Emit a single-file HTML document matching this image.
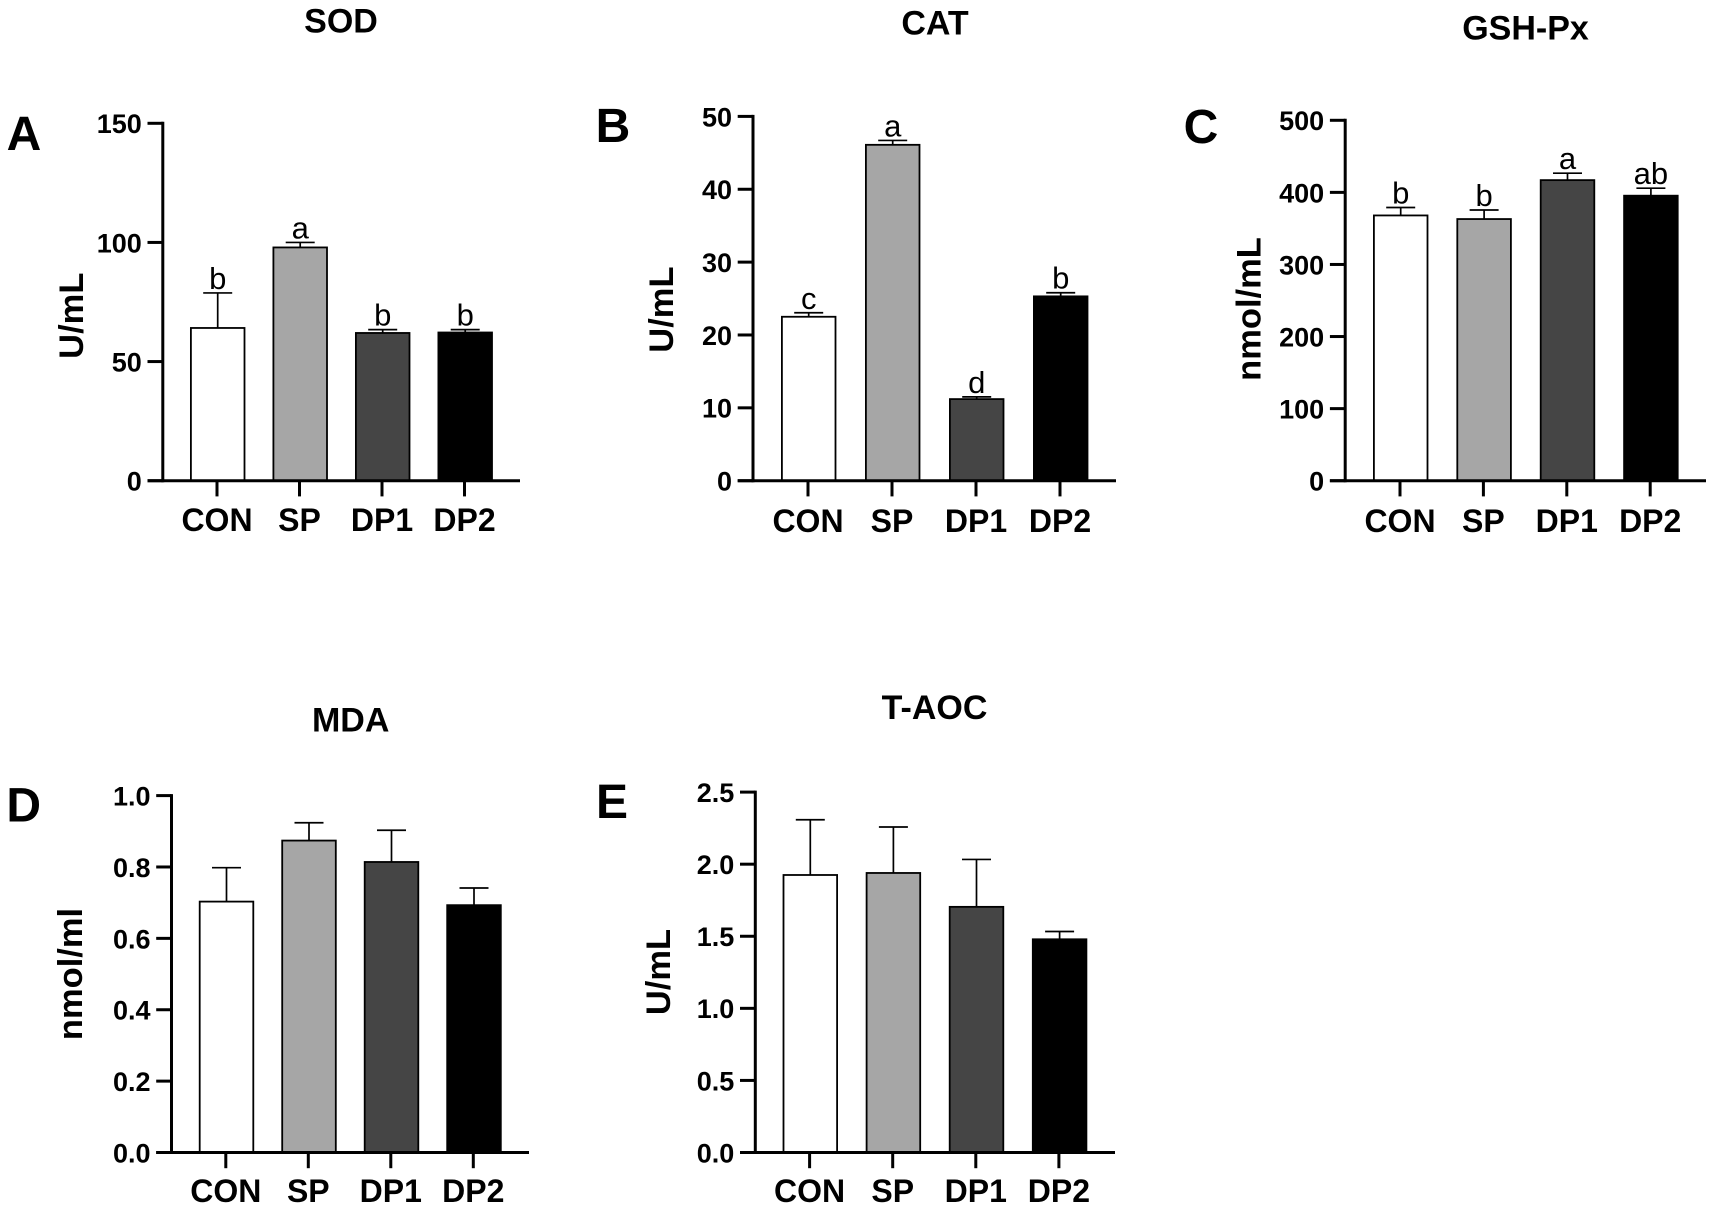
<!DOCTYPE html>
<html lang="en">
<head>
<meta charset="utf-8">
<title>Antioxidant indices: SOD, CAT, GSH-Px, MDA, T-AOC</title>
<style>
html,body{margin:0;padding:0;background:#fff;}
svg{display:block;font-family:"Liberation Sans",Arial,sans-serif;}
.b{font-weight:bold;fill:#000;}
.sig{font-weight:normal;fill:#000;}
</style>
</head>
<body>
<svg id="figure" xmlns="http://www.w3.org/2000/svg" width="1713" height="1211" viewBox="0 0 1713 1211">
<rect x="0" y="0" width="1713" height="1211" fill="#fff"></rect>
</svg>
<script>
// ---------- data ----------
const categories = ['CON', 'SP', 'DP1', 'DP2'];

const sodValues  = [64.1, 97.9, 62.0, 62.2];
const sodErrTops = [78.8, 100.0, 63.4, 63.4];
const sodLetters = ['b', 'a', 'b', 'b'];
const sodTicks   = ['0', '50', '100', '150'];

const catValues  = [22.5, 46.1, 11.2, 25.3];
const catErrTops = [23.05, 46.7, 11.5, 25.8];
const catLetters = ['c', 'a', 'd', 'b'];
const catTicks   = ['0', '10', '20', '30', '40', '50'];

const gshValues  = [368, 363, 417, 395.4];
const gshErrTops = [379, 375.6, 426.6, 405.8];
const gshLetters = ['b', 'b', 'a', 'ab'];
const gshTicks   = ['0', '100', '200', '300', '400', '500'];

const mdaValues  = [0.703, 0.874, 0.814, 0.693];
const mdaErrTops = [0.798, 0.924, 0.903, 0.741];
const mdaLetters = ['', '', '', ''];
const mdaTicks   = ['0.0', '0.2', '0.4', '0.6', '0.8', '1.0'];

const taocValues  = [1.925, 1.939, 1.704, 1.479];
const taocErrTops = [2.308, 2.258, 2.033, 1.533];
const taocLetters = ['', '', '', ''];
const taocTicks   = ['0.0', '0.5', '1.0', '1.5', '2.0', '2.5'];

const barFills = ['#ffffff', '#a6a6a6', '#454545', '#000000'];

// ---------- layout ----------
const panels = [
  {id:'sod', letter:'A', title:'SOD', unit:'U/mL', values:sodValues, errs:sodErrTops, sig:sodLetters, ticks:sodTicks,
   axisX:162.8, top:123.3, base:480.7, right:520, first:217, step:82.5,
   titleX:341, titleY:32.5, unitX:83, unitY:315.7, letterX:24, letterY:150, labelY:531},
  {id:'cat', letter:'B', title:'CAT', unit:'U/mL', values:catValues, errs:catErrTops, sig:catLetters, ticks:catTicks,
   axisX:753, top:116.4, base:480.7, right:1116, first:808, step:84,
   titleX:935, titleY:34.6, unitX:673, unitY:309.6, letterX:613, letterY:142, labelY:532},
  {id:'gsh', letter:'C', title:'GSH-Px', unit:'nmol/mL', values:gshValues, errs:gshErrTops, sig:gshLetters, ticks:gshTicks,
   axisX:1345.2, top:120.3, base:480.7, right:1706, first:1400, step:83.4,
   titleX:1525.5, titleY:39.3, unitX:1260.7, unitY:309, letterX:1201, letterY:143, labelY:532},
  {id:'mda', letter:'D', title:'MDA', unit:'nmol/ml', values:mdaValues, errs:mdaErrTops, sig:mdaLetters, ticks:mdaTicks,
   axisX:171.5, top:795.6, base:1152.5, right:529, first:225.8, step:82.5,
   titleX:350.7, titleY:731.5, unitX:82, unitY:974, letterX:23.7, letterY:821.5, labelY:1202},
  {id:'taoc', letter:'E', title:'T-AOC', unit:'U/mL', values:taocValues, errs:taocErrTops, sig:taocLetters, ticks:taocTicks,
   axisX:755.3, top:792.1, base:1152.5, right:1115, first:809.6, step:83.1,
   titleX:934.5, titleY:719, unitX:670, unitY:972, letterX:612, letterY:818.2, labelY:1202}
];

const NS = 'http://www.w3.org/2000/svg';
const svg = document.getElementById('figure');

function mk(parent, tag, attrs, name, txt) {
  const el = document.createElementNS(NS, tag);
  for (const k in attrs) el.setAttribute(k, attrs[k]);
  
  
  if (txt !== undefined) el.textContent = txt;
  parent.appendChild(el);
  return el;
}

function drawPanel(p) {
  const g = mk(svg, 'g', {}, 'panel-' + p.id);
  const maxTick = parseFloat(p.ticks[p.ticks.length - 1]);
  const y = v => p.base - (v / maxTick) * (p.base - p.top);
  const x = i => p.first + i * p.step;
  const barHalf = 26.8, capHalf = 14.5, barOffset = 0.7;

  mk(g, 'text', {x:p.letterX, y:p.letterY, 'text-anchor':'middle', 'font-size':48, class:'b'}, 'panel-letter-' + p.letter, p.letter);
  mk(g, 'text', {x:p.titleX, y:p.titleY, 'text-anchor':'middle', 'font-size':34, class:'b'}, 'chart-title-' + p.id, p.title);
  mk(g, 'text', {x:0, y:0, 'text-anchor':'middle', 'font-size':34.5, class:'b',
    transform:'translate(' + p.unitX + ' ' + p.unitY + ') rotate(-90)'}, 'y-axis-title-' + p.id, p.unit);

  // bars with error bars
  p.values.forEach((v, i) => {
    const cx = x(i) + barOffset;
    const cat = categories[i].toLowerCase();
    mk(g, 'line', {x1:cx, x2:cx, y1:y(v), y2:y(p.errs[i]), stroke:'#000', 'stroke-width':1.7}, 'error-bar-' + p.id + '-' + cat);
    mk(g, 'line', {x1:cx - capHalf, x2:cx + capHalf, y1:y(p.errs[i]), y2:y(p.errs[i]), stroke:'#000', 'stroke-width':1.7}, 'error-cap-' + p.id + '-' + cat);
    mk(g, 'rect', {x:cx - barHalf, y:y(v), width:barHalf * 2, height:p.base - y(v), fill:barFills[i], stroke:'#000', 'stroke-width':1.8}, 'bar-' + p.id + '-' + cat);
    if (p.sig[i]) {
      mk(g, 'text', {x:cx, y:y(p.errs[i]) - 4, 'text-anchor':'middle', 'font-size':31, class:'sig'}, 'significance-letter-' + p.id + '-' + cat, p.sig[i]);
    }
  });

  // axes
  mk(g, 'line', {x1:p.axisX, x2:p.axisX, y1:p.top - 1.5, y2:p.base + 1.5, stroke:'#000', 'stroke-width':3}, 'y-axis-' + p.id);
  mk(g, 'line', {x1:p.axisX - 15.3, x2:p.right, y1:p.base, y2:p.base, stroke:'#000', 'stroke-width':3}, 'x-axis-' + p.id);

  p.ticks.forEach(t => {
    const ty = y(parseFloat(t));
    mk(g, 'line', {x1:p.axisX - 15.3, x2:p.axisX, y1:ty, y2:ty, stroke:'#000', 'stroke-width':3}, 'y-tick-' + p.id + '-' + t);
    mk(g, 'text', {x:p.axisX - 21, y:ty + 9.9, 'text-anchor':'end', 'font-size':27, class:'b'}, 'y-tick-label-' + p.id + '-' + t, t);
  });

  categories.forEach((c, i) => {
    mk(g, 'line', {x1:x(i), x2:x(i), y1:p.base, y2:p.base + 15.7, stroke:'#000', 'stroke-width':3}, 'x-tick-' + p.id + '-' + c.toLowerCase());
    mk(g, 'text', {x:x(i), y:p.labelY, 'text-anchor':'middle', 'font-size':32, class:'b'}, 'x-tick-label-' + p.id + '-' + c.toLowerCase(), c);
  });
}

panels.forEach(drawPanel);
</script>
</body>
</html>
